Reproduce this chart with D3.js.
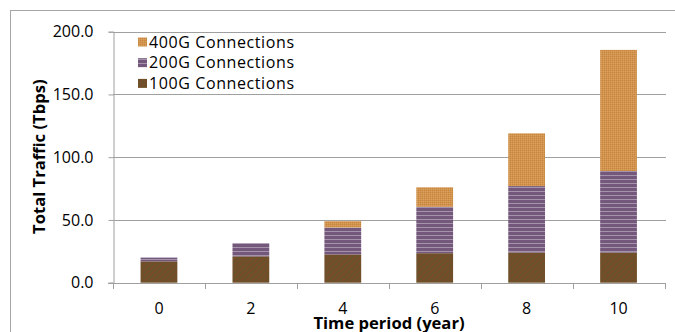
<!DOCTYPE html>
<html><head><meta charset="utf-8">
<script src="https://cdn.jsdelivr.net/npm/d3@7"></script>
<style>body{margin:0;background:#fff}svg{display:block}</style>
</head><body>
<svg id="c" width="675" height="332"></svg>
<script>
const years = ["0","2","4","6","8","10"];
const g100 = [17, 21, 22.5, 23.5, 24, 24];
const g200 = [3, 10.5, 21.5, 37, 53, 65];
const g400 = [0, 0, 5, 15.5, 42, 96.5];
const seriesNames = ["100G Connections","200G Connections","400G Connections"];
const yTicks = [0, 50, 100, 150, 200];

const svg = d3.select("#c");
const font = "'Open Sans', 'DejaVu Sans', sans-serif";
const defs = svg.append("defs");
// patterns
const p1 = defs.append("pattern").attr("id","p100").attr("patternUnits","userSpaceOnUse").attr("width",4).attr("height",4).attr("patternTransform","rotate(45)");
p1.append("rect").attr("width",4).attr("height",4).attr("fill","#6a5228");
p1.append("rect").attr("width",1.5).attr("height",4).attr("fill","#7a4a2c");
const p2 = defs.append("pattern").attr("id","p200").attr("patternUnits","userSpaceOnUse").attr("width",4).attr("height",4);
p2.append("rect").attr("width",4).attr("height",4).attr("fill","#73587c");
p2.append("rect").attr("y",3).attr("width",4).attr("height",1).attr("fill","#a592ab");
const p4 = defs.append("pattern").attr("id","p400").attr("patternUnits","userSpaceOnUse").attr("width",2).attr("height",2);
p4.append("rect").attr("width",2).attr("height",2).attr("fill","#d2944c");
p4.append("rect").attr("width",1).attr("height",1).attr("fill","#c5873f");
p4.append("rect").attr("x",1).attr("y",1).attr("width",1).attr("height",1).attr("fill","#dba060");
const fills = ["url(#p100)","url(#p200)","url(#p400)"];

// outer border
svg.append("rect").attr("x",10.5).attr("y",10.5).attr("width",680).attr("height",340)
  .attr("fill","none").attr("stroke","#a6a6a6");

const x = d3.scaleBand().domain(years).range([113, 664.5]).paddingInner(0.6).paddingOuter(0.3);
const xb = d3.scaleBand().domain(years).range([113, 664.5]);
const y = d3.scaleLinear().domain([0, 200]).range([282.7, 31.7]);

// gridlines
svg.append("g").selectAll("line").data(yTicks.slice(1)).join("line")
  .attr("x1",113).attr("x2",666).attr("y1",d=>Math.round(y(d))+0.5).attr("y2",d=>Math.round(y(d))+0.5)
  .attr("stroke","#a0a0a0").attr("stroke-width",1);

// y axis
const ya = svg.append("g").attr("transform","translate(113.5,0)")
  .call(d3.axisLeft(y).tickValues(yTicks).tickFormat(d3.format(".1f")).tickSize(5).tickPadding(15));
ya.select(".domain").attr("stroke","#a0a0a0");
ya.selectAll(".tick line").attr("stroke","#a0a0a0");
ya.selectAll("text").attr("font-family",font).attr("font-size",16).attr("fill","#000");

// stacked bars
const data = years.map((k,i)=>({k, a:g100[i], b:g200[i], c:g400[i]}));
const stack = d3.stack().keys(["a","b","c"])(data);
svg.append("g").selectAll("g").data(stack).join("g").attr("fill",(d,i)=>fills[i])
  .selectAll("rect").data(d=>d).join("rect")
  .attr("x",d=>x(d.data.k)).attr("width",x.bandwidth())
  .attr("y",d=>y(d[1])).attr("height",d=>Math.max(0,y(d[0])-y(d[1])));

// x axis
const xa = svg.append("g").attr("transform","translate(0,283)");
xa.append("line").attr("x1",108).attr("x2",666).attr("y1",0.5).attr("y2",0.5).attr("stroke","#a0a0a0");
const bounds = years.map(k=>xb(k)).concat([xb(years[5])+xb.bandwidth()]);
xa.selectAll("line.t").data(bounds).join("line").attr("class","t")
  .attr("x1",d=>Math.round(d)+0.5).attr("x2",d=>Math.round(d)+0.5).attr("y1",0).attr("y2",6).attr("stroke","#a0a0a0");
xa.selectAll("text").data(years).join("text")
  .attr("x",d=>xb(d)+xb.bandwidth()/2).attr("y",31).attr("text-anchor","middle")
  .attr("font-family",font).attr("font-size",16).attr("fill","#000").text(d=>d);

// axis titles
svg.append("text").attr("x",389).attr("y",328.5).attr("text-anchor","middle")
  .attr("font-family",font).attr("font-weight","bold").attr("font-size",16.6).text("Time period (year)");
svg.append("text").attr("transform","translate(44.5,156.7) rotate(-90)").attr("text-anchor","middle")
  .attr("font-family",font).attr("font-weight","bold").attr("font-size",16.6).text("Total Traffic (Tbps)");

// legend (reverse order)
const leg = svg.append("g");
const order = [2,1,0];
order.forEach((si,j)=>{
  const yy = 42 + j*20.7;
  leg.append("rect").attr("x",138).attr("y",yy-4.5).attr("width",9).attr("height",9).attr("fill",fills[si]);
  leg.append("text").attr("x",149).attr("y",yy+5.5).attr("font-family",font).attr("font-size",16)
    .attr("letter-spacing",0.6).text(seriesNames[si]);
});
</script>
</body></html>
